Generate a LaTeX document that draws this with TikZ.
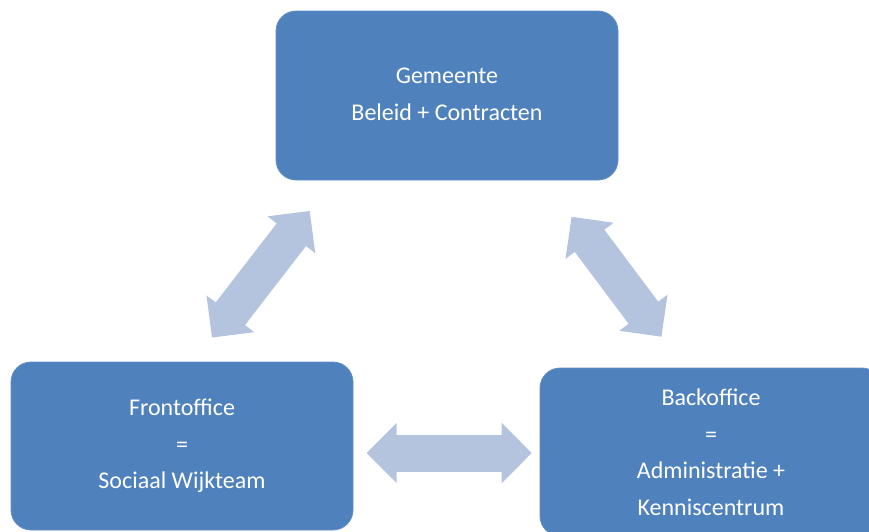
\documentclass[tikz,border=0pt]{standalone}
\usepackage{fontspec}
\setmainfont{Carlito}
\usetikzlibrary{arrows.meta}
\definecolor{boxblue}{RGB}{79,129,189}
\definecolor{boxedge}{RGB}{98,143,198}
\definecolor{arrowblue}{RGB}{180,196,222}
\begin{document}
\begin{tikzpicture}[x=1pt,y=-1pt,
  box/.style={rectangle, rounded corners=20pt, fill=boxblue, draw=boxedge, line width=0.8pt,
    text=white, align=center, font=\fontsize{24}{36.5}\selectfont,
    minimum width=342pt, inner sep=0pt},
  dbl/.style={arrowblue, line width=37pt,
    {Triangle[length=30pt,width=60pt,line width=1.5pt]}-{Triangle[length=30pt,width=60pt,line width=1.5pt]}}]
\useasboundingbox (0,0) rectangle (869,531);
\clip (0,0) rectangle (869,531);

\node[box, minimum height=169pt, text depth=3pt] (gem) at (447,95.5) {Gemeente\\Beleid + Contracten};
\node[box, minimum height=168pt] (front) at (182,446) {Frontoffice\\=\\Sociaal Wijkteam};
\node[box, minimum height=168pt] (back) at (711,452) {Backoffice\\=\\Administratie +\\Kenniscentrum};

\coordinate (l1) at (212,337.5);
\coordinate (l2) at (309.7,211);
\coordinate (r1) at (571.6,216.8);
\coordinate (r2) at (661.4,336.7);
\coordinate (h1) at (366.7,453);
\coordinate (h2) at (531.7,453);

\draw[dbl] (l1) -- (l2);
\draw[dbl] (r1) -- (r2);
\draw[dbl] (h1) -- (h2);
\end{tikzpicture}
\end{document}
